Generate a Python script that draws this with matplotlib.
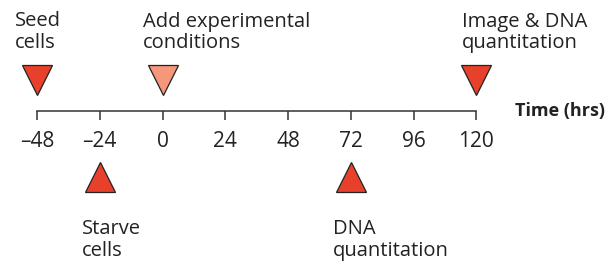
#!/usr/bin/env python3
import matplotlib
matplotlib.use('Agg')
import matplotlib.pyplot as plt

# timeline data
ticks = [-48, -24, 0, 24, 48, 72, 96, 120]
tickLabels = ['\u201348', '\u201324', '0', '24', '48', '72', '96', '120']

topTimes = [-48, 0, 120]
topLabels = ['Seed\ncells', 'Add experimental\nconditions', 'Image & DNA\nquantitation']
topColors = ['#e8412b', '#f4977a', '#e8412b']

botTimes = [-24, 72]
botLabels = ['Starve\ncells', 'DNA\nquantitation']
botColors = ['#e8412b', '#e8412b']

plt.rcParams['font.family'] = ['Open Sans', 'DejaVu Sans']

W, H = 605, 262
fig = plt.figure(figsize=(W/100, H/100), dpi=100)
ax = fig.add_axes([0, 0, 1, 1])

# x in hours, y in pixels from top
pxPerHr = 62.75/24
x0 = -48 - 37/pxPerHr
ax.set_xlim(x0, x0 + W/pxPerHr)
ax.set_ylim(H, 0)

yAxis = 111
for s in ['top', 'left', 'right']:
    ax.spines[s].set_visible(False)
ax.spines['bottom'].set_position(('data', yAxis))
ax.spines['bottom'].set_bounds(ticks[0], ticks[-1])
ax.spines['bottom'].set_color('#333333')
ax.spines['bottom'].set_linewidth(1.1)
ax.set_yticks([])
ax.set_xticks(ticks)
ax.set_xticklabels(tickLabels)
ax.tick_params(axis='x', direction='out', length=6.5, width=1.1, color='#333333',
               pad=8, labelsize=15, labelcolor='#222222')

txtOpt = dict(fontsize=14.5, color='#222222', ha='left', va='baseline', linespacing=1.1)
topOffsets = [-22, -20, -14]
for t, lab, c, off in zip(topTimes, topLabels, topColors, topOffsets):
    ax.plot(t, 79.5, marker='v', markersize=21.6, color=c, markeredgecolor='#222222',
            markeredgewidth=0.9, clip_on=False)
    ax.text(t + off/pxPerHr, 48, lab, **txtOpt)

for t, lab, c in zip(botTimes, botLabels, botColors):
    ax.plot(t, 177, marker='^', markersize=21.6, color=c, markeredgecolor='#222222',
            markeredgewidth=0.9, clip_on=False)
    ax.text(t - 17.5/pxPerHr, 256, lab, **txtOpt)

ax.text(x0 + 515/pxPerHr, 116, 'Time (hrs)', fontsize=13, fontweight='bold',
        color='#222222', ha='left', va='baseline')

fig.savefig('out.png', dpi=100)
